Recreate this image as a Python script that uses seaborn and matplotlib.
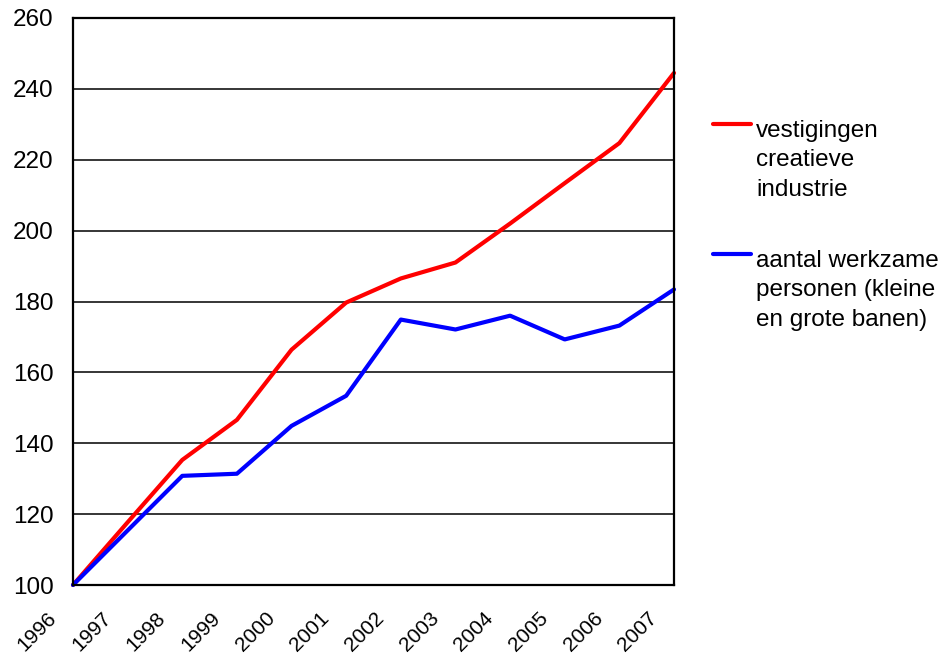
import pandas as pd
import numpy as np
import matplotlib.pyplot as plt
import matplotlib.transforms as mtransforms
from matplotlib.lines import Line2D
import seaborn as sns

# ================================
# 1. DATA (index, 1996 = 100)
# ================================
years = ['1996', '1997', '1998', '1999', '2000', '2001',
         '2002', '2003', '2004', '2005', '2006', '2007']
vestigingen = [100, 117.7, 135.3, 146.6, 166.4, 179.7,
               186.5, 191.0, 202.0, 213.4, 224.7, 244.5]
werkzame = [100, 115.4, 130.8, 131.4, 144.9, 153.4,
            174.9, 172.1, 176.0, 169.3, 173.2, 183.4]
series_names = ['vestigingen\ncreatieve\nindustrie',
                'aantal werkzame\npersonen (kleine\nen grote banen)']
colors = ['#ff0000', '#0000ff']

df = pd.DataFrame({
    'pos': list(range(len(years))) * 2,
    'waarde': vestigingen + werkzame,
    'reeks': [series_names[0]] * len(years) + [series_names[1]] * len(years),
})

# ================================
# 2. STYLE
# ================================
sns.set_style('white')
plt.rcParams['font.family'] = ['Liberation Sans', 'DejaVu Sans']
plt.rcParams['text.color'] = 'black'
plt.rcParams['xtick.color'] = 'black'
plt.rcParams['ytick.color'] = 'black'

fig = plt.figure(figsize=(9.4, 6.57), dpi=100)
ax = fig.add_axes([73 / 940, 1 - 585 / 657, 601 / 940, 567 / 657])

sns.lineplot(data=df, x='pos', y='waarde', hue='reeks',
             palette=dict(zip(series_names, colors)),
             linewidth=3, legend=False, ax=ax, clip_on=False)

# ================================
# 3. AXES
# ================================
ax.set_xlim(0, len(years) - 1)
ax.set_ylim(100, 260)
ax.set_yticks(np.arange(100, 261, 20))
ax.yaxis.grid(True, color='black', linewidth=1.1)
ax.set_axisbelow(True)
ax.set_xticks(range(len(years)))
ax.set_xticklabels(years, rotation=45, ha='right', va='top')
ax.tick_params(axis='y', length=0, pad=14, labelsize=17.5)
ax.tick_params(axis='x', length=0, pad=17, labelsize=15)
offset = mtransforms.ScaledTranslation(-0.13, 0, fig.dpi_scale_trans)
for lab in ax.get_xticklabels():
    lab.set_transform(lab.get_transform() + offset)
ax.set_xlabel('')
ax.set_ylabel('')
for sp in ax.spines.values():
    sp.set_visible(True)
    sp.set_color('black')
    sp.set_linewidth(1.6)

# ================================
# 4. LEGEND (handle level with first text line)
# ================================
leg_y = [124, 254]
for name, col, y in zip(series_names, colors, leg_y):
    yf = 1 - y / 657
    fig.add_artist(Line2D([713 / 940, 751 / 940], [yf, yf],
                          color=col, linewidth=3,
                          transform=fig.transFigure))
    fig.text(756 / 940, 1 - (y - 4) / 657, name, fontsize=17.5,
             va='top', ha='left', linespacing=1.43)

fig.savefig('out.png', dpi=100)
